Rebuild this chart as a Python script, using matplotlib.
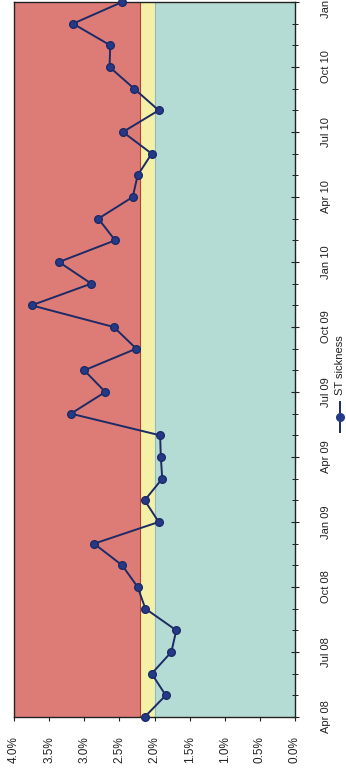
import matplotlib
matplotlib.use('Agg')
import matplotlib.pyplot as plt
from matplotlib.lines import Line2D
import numpy as np

plt.rcParams['font.family'] = ['Liberation Sans', 'DejaVu Sans']

# monthly ST sickness rate (%), Apr 08 .. Jan 11
months = ['Apr 08', 'May 08', 'Jun 08', 'Jul 08', 'Aug 08', 'Sep 08',
          'Oct 08', 'Nov 08', 'Dec 08', 'Jan 09', 'Feb 09', 'Mar 09',
          'Apr 09', 'May 09', 'Jun 09', 'Jul 09', 'Aug 09', 'Sep 09',
          'Oct 09', 'Nov 09', 'Dec 09', 'Jan 10', 'Feb 10', 'Mar 10',
          'Apr 10', 'May 10', 'Jun 10', 'Jul 10', 'Aug 10', 'Sep 10',
          'Oct 10', 'Nov 10', 'Dec 10', 'Jan 11']
st_sickness = [2.14, 1.84, 2.04, 1.76, 1.69, 2.13,
               2.24, 2.46, 2.86, 1.94, 2.14, 1.89,
               1.91, 1.92, 3.19, 2.70, 3.00, 2.26,
               2.58, 3.75, 2.90, 3.36, 2.56, 2.80,
               2.31, 2.24, 2.04, 2.45, 1.94, 2.29,
               2.64, 2.63, 3.16, 2.46]
quarter_labels = ['Apr 08', 'Jul 08', 'Oct 08', 'Jan 09', 'Apr 09', 'Jul 09',
                  'Oct 09', 'Jan 10', 'Apr 10', 'Jul 10', 'Oct 10', 'Jan 11']
pct_ticks = [0.0, 0.5, 1.0, 1.5, 2.0, 2.5, 3.0, 3.5, 4.0]
# RAG bands
red_from = 2.2
amber_from = 2.0

W, H = 346, 776
fig = plt.figure(figsize=(W / 100, H / 100), dpi=100)
fig.patch.set_facecolor('white')
ax = fig.add_axes([14 / W, (H - 717) / H, (295 - 14) / W, (717 - 2) / H])

idx = np.arange(len(months))

ax.axvspan(red_from, 4.0, color='#dd7c77', lw=0)
ax.axvspan(amber_from, red_from, color='#f4f0a6', lw=0)
ax.axvspan(0.0, amber_from, color='#b4dcd5', lw=0)
ax.axvline(red_from, color='#b0403a', lw=0.8)
ax.axvline(amber_from, color='#8fb8c8', lw=0.8)

ax.plot(st_sickness, idx, color='#1c2a66', lw=1.4, marker='o',
        markersize=5.5, markerfacecolor='#243a88', markeredgecolor='#1c2a66',
        clip_on=False, zorder=5)

ax.set_xlim(4.0, 0.0)
ax.set_ylim(0, len(months) - 1)

ax.set_xticks(pct_ticks)
ax.set_xticklabels(['{:.1f}%'.format(v) for v in pct_ticks], rotation=90,
                   fontsize=8.5)
ax.tick_params(axis='x', direction='out', length=3, width=0.8, pad=11,
               colors='#222222')

ax.yaxis.tick_right()
ax.set_yticks(idx[::3])
ax.set_yticklabels(quarter_labels, rotation=90, va='center', fontsize=8)
ax.set_yticks(idx, minor=True)
ax.tick_params(axis='y', which='major', direction='inout', length=6,
               width=0.8, pad=16, colors='#222222')
ax.tick_params(axis='y', which='minor', direction='inout', length=4,
               width=0.6)

for s in ax.spines.values():
    s.set_color('#222222')
    s.set_linewidth(1.0)

# rotated legend drawn by hand
lx = 340 / W
fig.add_artist(Line2D([lx, lx], [(H - 432) / H, (H - 402) / H],
                      transform=fig.transFigure, color='#1c2a66', lw=1.4))
fig.add_artist(Line2D([lx], [(H - 417) / H], transform=fig.transFigure,
                      marker='o', markersize=5.5, color='#243a88'))
fig.text(lx, (H - 395) / H, 'ST sickness', rotation=90, fontsize=8,
         ha='center', va='bottom', color='#222222')

fig.savefig('out.png', dpi=100)
